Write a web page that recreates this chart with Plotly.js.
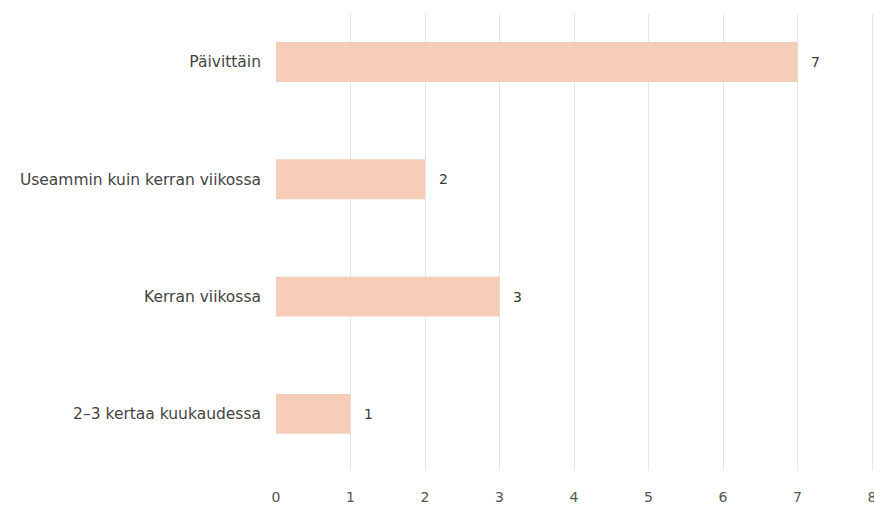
<!DOCTYPE html>
<html><head><meta charset="utf-8">
<script src="https://cdn.plot.ly/plotly-3.0.1.min.js"></script>
<style>html,body{margin:0;padding:0;background:#fff;overflow:hidden;}#chart{width:874px;height:508px;}</style>
</head><body><div id="chart"></div>
<script>
const categories = ["Päivittäin", "Useammin kuin kerran viikossa", "Kerran viikossa", "2–3 kertaa kuukaudessa"];
const values = [7, 2, 3, 1];
const xTicks = [0, 1, 2, 3, 4, 5, 6, 7, 8];

const FONT = '"DejaVu Sans", sans-serif';
const annotations = categories.map((c, i) => ({
  x: values[i], y: c, xref: 'x', yref: 'y', text: String(values[i]),
  showarrow: false, xanchor: 'center', xshift: 18,
  font: {family: FONT, size: 14, color: '#3a3a3a'}
}));

Plotly.newPlot('chart', [{
  type: 'bar', orientation: 'h', y: categories, x: values,
  marker: {color: '#f6cdb9', line: {width: 0}}, width: 0.34, hoverinfo: 'none'
}], {
  width: 874, height: 508,
  margin: {l: 276, r: 0, t: 14, b: 38},
  paper_bgcolor: '#fff', plot_bgcolor: '#fff',
  showlegend: false,
  font: {family: FONT, size: 14, color: '#444'},
  xaxis: {range: [0, 8.0268], tickvals: xTicks, ticktext: xTicks.map(String),
    showgrid: true, gridcolor: '#e6e6e6', gridwidth: 1, zeroline: false,
    ticks: '', ticklabelstandoff: 17, ticklabeloverflow: 'allow',
    tickfont: {size: 14, color: '#555'}, fixedrange: true},
  yaxis: {type: 'category', range: [3.478, -0.409], showgrid: false, zeroline: false,
    ticks: '', ticklabelstandoff: 14, tickfont: {size: 15.5, color: '#444'}, fixedrange: true},
  annotations: annotations
}, {staticPlot: true});
</script></body></html>
